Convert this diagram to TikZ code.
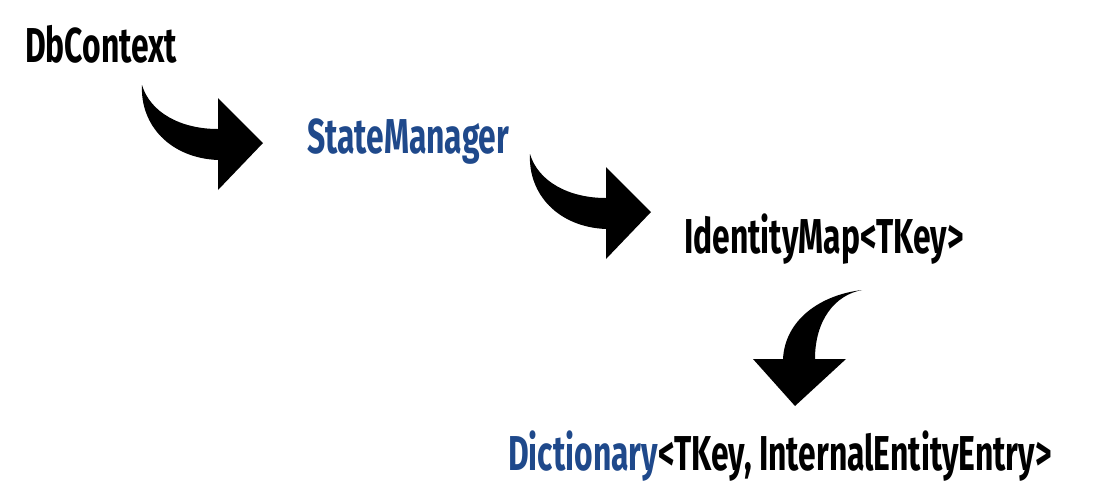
\documentclass[tikz,border=0pt]{standalone}
\usepackage{fontspec}
\newfontfamily\condfont[FakeStretch=0.65]{Fira Sans}
\definecolor{efblue}{RGB}{31,73,139}
\begin{document}
\begin{tikzpicture}[x=1pt,y=-1pt,
  lbl/.style={anchor=base west,inner sep=0pt,font=\condfont\bfseries\fontsize{49}{54}\selectfont},
  bigarrow/.style={fill=black,draw=none}]
\useasboundingbox (0,0) rectangle (1112,491);
\node[lbl] (db) at (25,62) {DbContext};
\node[lbl,text=efblue] (sm) at (307,153) {StateManager};
\node[lbl] (im) at (684,253) {IdentityMap<TKey>};
\node[lbl] (dict) at (508,470) {\textcolor{efblue}{Dictionary}<TKey, InternalEntityEntry>};
% arrow 1
\fill[bigarrow] (142,85) .. controls (150,112) and (180,129) .. (218,129)
  -- (218,98) -- (263,143) -- (218,190) -- (218,160)
  .. controls (170,158) and (140,125) .. (142,85) -- cycle;
% arrow 2
\begin{scope}[shift={(388,69)}]
\fill[bigarrow] (142,85) .. controls (150,112) and (180,129) .. (218,129)
  -- (218,98) -- (263,143) -- (218,190) -- (218,160)
  .. controls (170,158) and (140,125) .. (142,85) -- cycle;
\end{scope}
% arrow 3
\fill[bigarrow] (862,290) .. controls (820,295) and (785,320) .. (783,359)
  -- (753,359) -- (795,406) -- (846,359) -- (815,359)
  .. controls (815,320) and (835,295) .. (862,290) -- cycle;
\end{tikzpicture}
\end{document}
